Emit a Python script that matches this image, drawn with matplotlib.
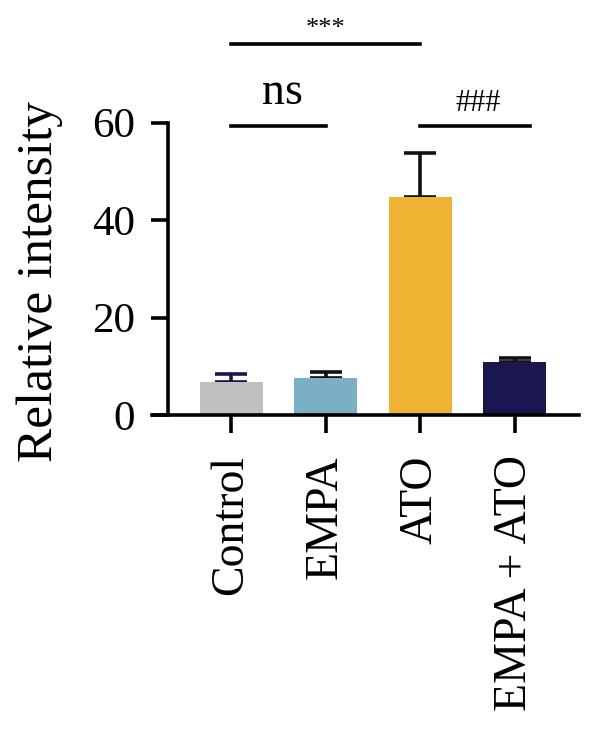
import matplotlib
matplotlib.use("Agg")
import matplotlib.pyplot as plt

categories = ["Control", "EMPA", "ATO", "EMPA + ATO"]
means = [6.8, 7.5, 44.7, 10.9]
errors = [1.6, 1.3, 9.1, 0.8]
bar_colors = ["#c0c0c0", "#7bafc4", "#f0b232", "#1a1650"]
err_colors = ["#1a1650", "#111111", "#111111", "#111111"]
yticks = [0, 20, 40, 60]

plt.rcParams['font.family'] = ['Liberation Serif', 'DejaVu Serif']

fig = plt.figure(figsize=(6, 7.49), dpi=100)
ax = fig.add_axes([152/600, 1-415/749, 427/600, (415-122.7)/749])

x = list(range(len(categories)))
ax.bar(x, means, width=0.667, color=bar_colors, zorder=2)
for xi, m, e, c in zip(x, means, errors, err_colors):
    ax.errorbar([xi], [m], yerr=[[0], [e]], fmt='none', ecolor=c,
                elinewidth=2.6, capsize=11.5, capthick=2.6, zorder=1)

lw = 2.6
ax.set_xlim(-0.836, 3.68)
ax.set_ylim(0, 60)
ax.spines['top'].set_visible(False)
ax.spines['right'].set_visible(False)
ax.spines['left'].set_position(('data', -0.667))
ax.spines['left'].set_linewidth(lw)
ax.spines['bottom'].set_linewidth(lw)
ax.set_yticks(yticks)
ax.set_xticks(x)
ax.set_xticklabels(categories, rotation=90, fontsize=33)
ax.tick_params(axis='y', labelsize=31, length=12, width=lw, pad=12)
ax.tick_params(axis='x', length=13, width=lw, pad=16)
ax.set_ylabel("Relative intensity", fontsize=37)
ax.yaxis.set_label_coords(-0.208, 0.458)

ax.plot([0, 2], [76.2, 76.2], color='black', lw=lw, clip_on=False)
ax.text(1.0, 79.2, "***", ha='center', va='center', fontsize=19, clip_on=False)
ax.plot([0, 1], [59.3, 59.3], color='black', lw=lw, clip_on=False)
ax.text(0.54, 66.2, "ns", ha='center', va='center', fontsize=33, clip_on=False)
ax.plot([2, 3.16], [59.3, 59.3], color='black', lw=lw, clip_on=False)
ax.text(2.61, 64.0, "###", ha='center', va='center', fontsize=22, clip_on=False)

fig.savefig("out.png", dpi=100)
